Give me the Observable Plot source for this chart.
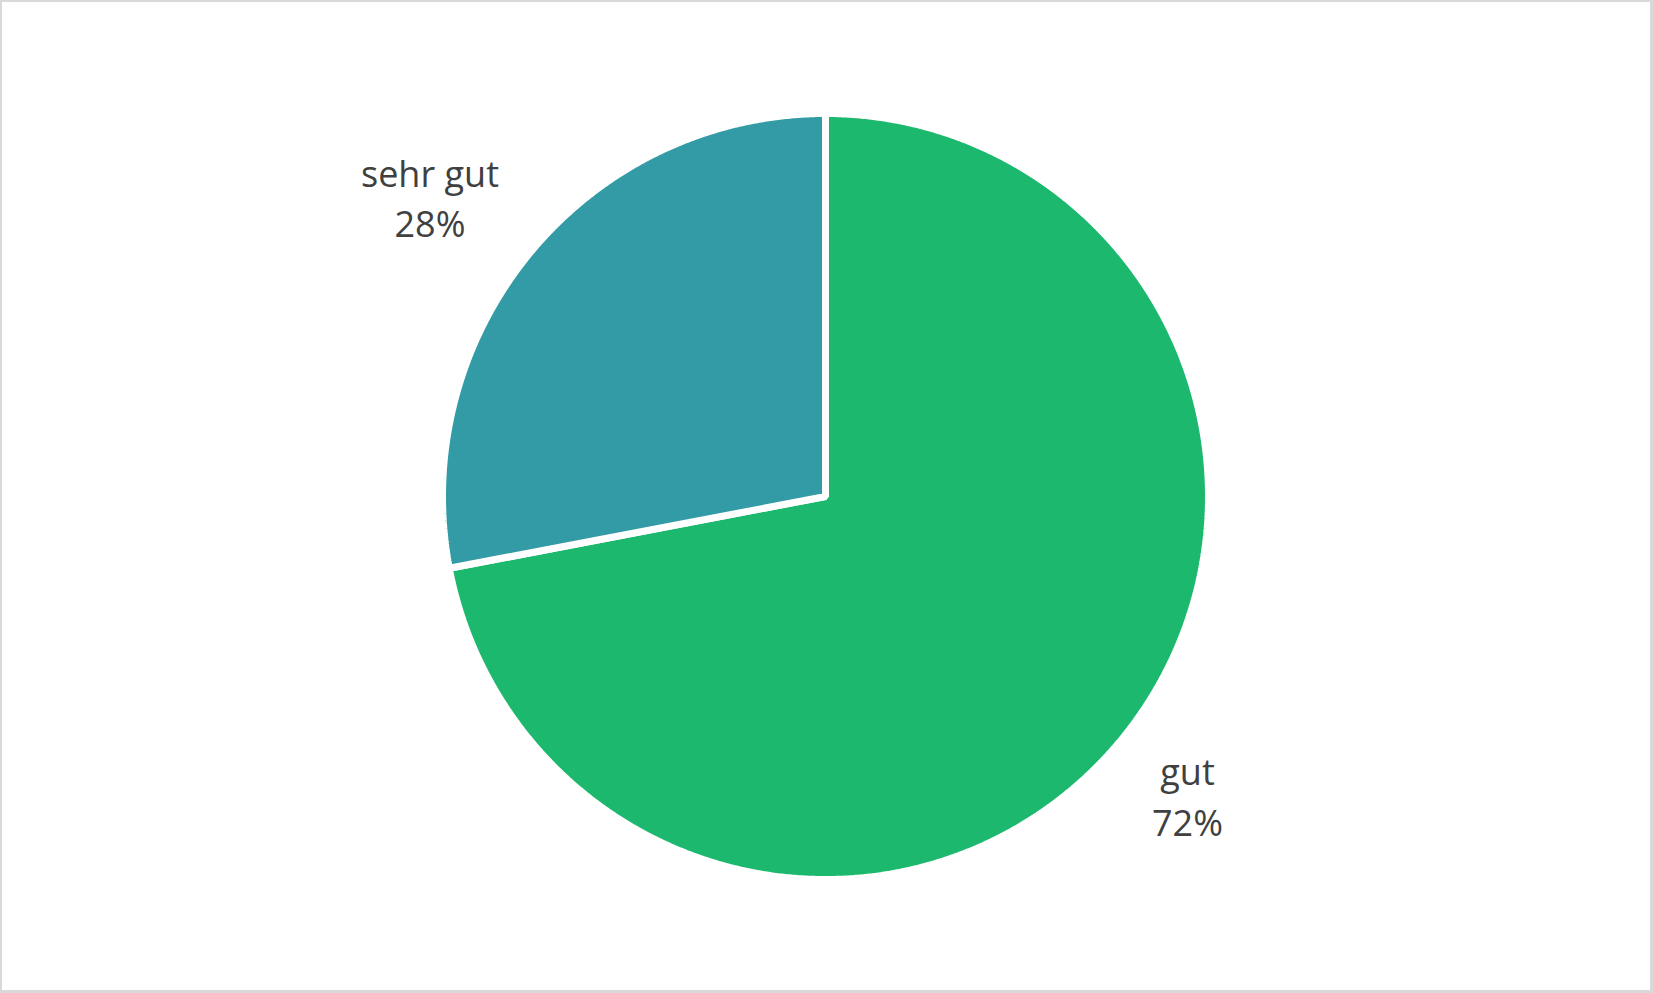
<!DOCTYPE html>
<html>
<head>
<meta charset="utf-8">
<script src="https://cdn.jsdelivr.net/npm/d3@7"></script>
<script src="https://cdn.jsdelivr.net/npm/@observablehq/plot@0.6"></script>
<style>
  html, body { margin: 0; padding: 0; background: #fff; }
  #wrap { position: relative; width: 1653px; height: 993px; overflow: hidden; }
  #frame { position: absolute; left: 0; top: 0; width: 1653px; height: 993px; box-sizing: border-box; border: 2px solid #d9d9d9; border-right-width: 3px; border-bottom-width: 3px; pointer-events: none; }
  #chart { position: absolute; left: 0; top: 0; }
</style>
</head>
<body>
<div id="wrap"><div id="chart"></div><div id="frame"></div></div>
<script>
// Data
const categories = ["gut", "sehr gut"];
const values = [72, 28];
const labels = ["72%", "28%"];
const colors = ["#1cb86e", "#339ba5"];

const W = 1653, H = 993, R = 383;
const cx = 825, cy = 496;
const fontSize = 36;
const fontFamily = "'Open Sans', sans-serif";
const lineHeight = 1.4;

const rows = categories.map((c, i) => ({category: c, value: values[i], label: labels[i], color: colors[i]}));
const arcs = d3.pie().value(d => d.value).sort(null)(rows);

// polygon points of each slice, in unit-circle coordinates (angle clockwise from 12 o'clock)
const slicePts = [];
arcs.forEach(a => {
  const n = Math.max(2, Math.ceil((a.endAngle - a.startAngle) / 0.005));
  slicePts.push({cat: a.data.category, x: 0, y: 0});
  for (let k = 0; k <= n; k++) {
    const t = a.startAngle + (a.endAngle - a.startAngle) * k / n;
    slicePts.push({cat: a.data.category, x: Math.sin(t), y: Math.cos(t)});
  }
  slicePts.push({cat: a.data.category, x: 0, y: 0});
});

// label placement: the label box corner nearest the pie sits just outside the edge
const ctx = document.createElement("canvas").getContext("2d");
ctx.font = `${fontSize}px ${fontFamily}`;
const labelRows = arcs.map(a => {
  const m = (a.startAngle + a.endAngle) / 2;
  const lines = [a.data.category, a.data.label];
  const halfW = d3.max(lines, s => ctx.measureText(s).width) / 2;
  const halfH = (fontSize * 0.72 + fontSize * lineHeight) / 2;
  const dx = Math.sin(m), dyUp = Math.cos(m);
  const rc = R + 35;
  // corner point, nudged slightly counter-clockwise
  const px = rc * dx + 7 * (-dyUp);
  const py = rc * dyUp + 7 * dx;
  const ox = px + Math.sign(dx) * halfW;
  const oy = py + Math.sign(dyUp) * halfH;
  return {text: lines.join("\n"), x: ox / R, y: oy / R};
});

const chart = Plot.plot({
  width: W,
  height: H,
  marginLeft: cx - R,
  marginRight: W - cx - R,
  marginTop: cy - R,
  marginBottom: H - cy - R,
  x: {domain: [-1, 1], axis: null},
  y: {domain: [-1, 1], axis: null},
  color: {domain: categories, range: colors},
  style: {background: "transparent", overflow: "visible"},
  marks: [
    Plot.line(slicePts, {
      x: "x", y: "y", z: "cat",
      fill: "cat",
      stroke: "#ffffff",
      strokeWidth: 7,
      strokeLinejoin: "miter",
      curve: "linear-closed"
    }),
    Plot.text(labelRows, {
      x: "x", y: "y", text: "text",
      fontSize: fontSize,
      fill: "#404040",
      lineHeight: lineHeight,
      dy: -1.5,
      textAnchor: "middle",
      lineAnchor: "middle",
      fontFamily: fontFamily
    })
  ]
});
document.getElementById("chart").appendChild(chart);
</script>
</body>
</html>
